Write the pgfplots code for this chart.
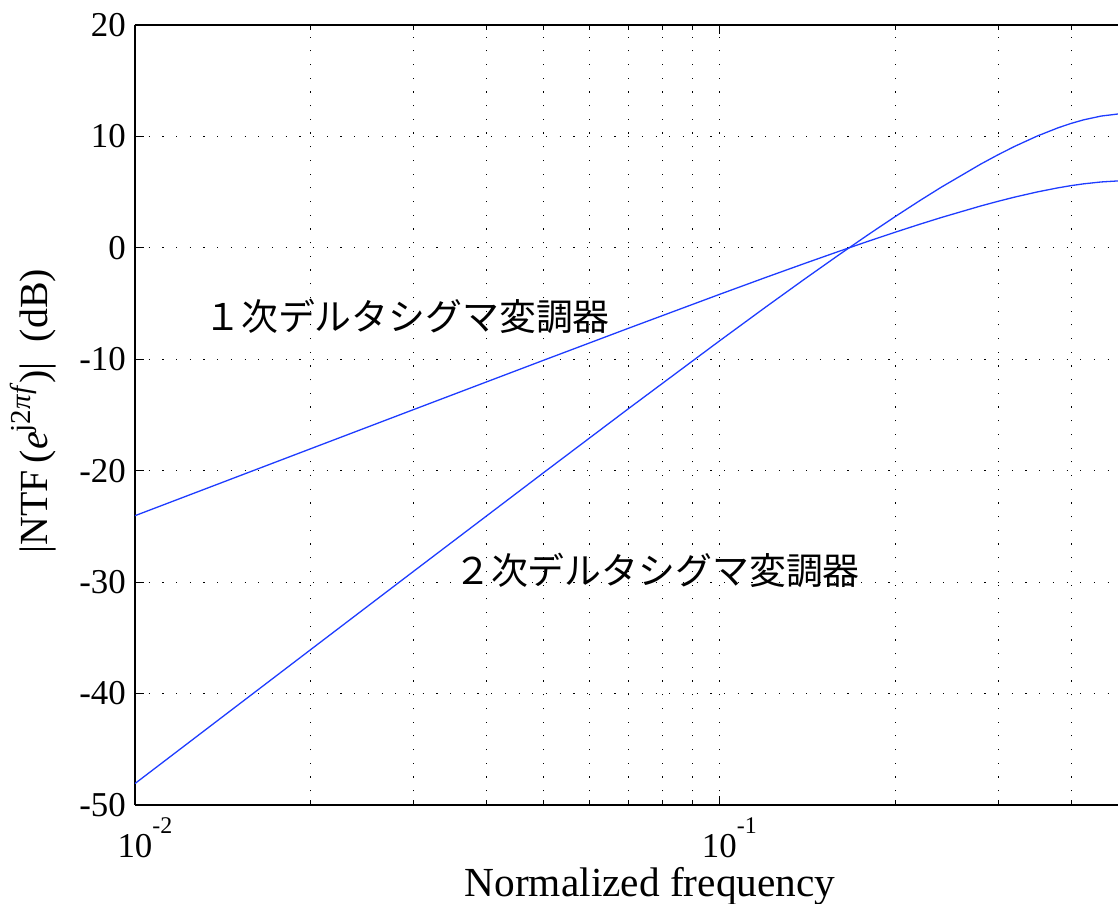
\documentclass[border=0pt]{standalone}
\usepackage{fontspec}
\setmainfont{Liberation Serif}
\newfontfamily\jpfont{Noto Sans CJK JP}
\usepackage{pgfplots}
\pgfplotsset{compat=1.18}
\usetikzlibrary{calc}
\definecolor{curve}{RGB}{30,60,255}

\pgfplotstableread{
f first second
0.01 -24.038 -48.075
0.015 -20.518 -41.036
0.02 -18.022 -36.043
0.03 -14.507 -29.014
0.05 -10.093 -20.186
0.07 -7.205 -14.409
0.1 -4.180 -8.360
0.12 -2.659 -5.319
0.14 -1.396 -2.792
0.16 -0.323 -0.646
0.18 0.601 1.202
0.2 1.405 2.810
0.22 2.109 4.218
0.24 2.729 5.457
0.28 3.756 7.513
0.3 4.180 8.360
0.32 4.551 9.102
0.35 5.018 10.036
0.38 5.388 10.776
0.4 5.585 11.169
0.42 5.743 11.487
0.45 5.913 11.826
0.48 6.003 12.007
0.5 6.021 12.041
}\ntfdata

\begin{document}
\begin{tikzpicture}
\begin{axis}[
  name=ax,
  scale only axis, width=983bp, height=780bp,
  xmode=log, xmin=0.01, xmax=0.481, ymin=-50, ymax=20,
  axis x line*=box, axis y line*=left,
  axis line style={black, line width=1.5bp},
  tick align=inside,
  major tick length=9bp, minor tick length=5bp,
  tick style={black, line width=1.2bp},
  xtick={0.01,0.1},
  minor xtick={0.02,0.03,0.04,0.05,0.06,0.07,0.08,0.09,0.2,0.3,0.4},
  xticklabels={10\rlap{\raisebox{24bp}{\fontsize{24}{24}\selectfont -2}},10\rlap{\raisebox{24bp}{\fontsize{24}{24}\selectfont -1}}},
  ytick={-50,-40,-30,-20,-10,0,10,20},
  yticklabels={-50,-40,-30,-20,-10,0,10,20},
  xmajorgrids, ymajorgrids, xminorgrids,
  major grid style={black, line width=1.2bp, dash pattern=on 1.2bp off 12.5bp},
  minor grid style={black, line width=1.2bp, dash pattern=on 1.2bp off 12.5bp},
  tick label style={font=\fontsize{35}{35}\selectfont},
  yticklabel style={inner sep=0pt},
  yticklabel shift=9bp,
  xticklabel style={anchor=base, inner sep=0pt, yshift=-53bp},
  xlabel={Normalized frequency},
  xlabel style={font=\fontsize{41.5}{41.5}\selectfont, at={(axis description cs:0.524,-0.1167)}, anchor=base, inner sep=0pt},
  ylabel={|NTF\,(\textit{e}\raisebox{0.42em}{\fontsize{29}{29}\selectfont j2\textit{π}\textit{f}})|\ \ (dB)},
  ylabel style={font=\fontsize{40}{40}\selectfont, at={(axis description cs:-0.1038,0.505)}, anchor=center, inner sep=0pt},
]
\addplot[curve, line width=1.3bp] table[x=f, y=first] {\ntfdata};
\addplot[curve, line width=1.3bp] table[x=f, y=second] {\ntfdata};
\node[anchor=west, inner sep=0pt, font=\jpfont\fontsize{37}{37}\selectfont] at (axis cs:0.01313,-6.16) {１次デルタシグマ変調器};
\node[anchor=west, inner sep=0pt, font=\jpfont\fontsize{37}{37}\selectfont] at (axis cs:0.03516,-28.91) {２次デルタシグマ変調器};
\end{axis}
\pgfresetboundingbox
\path[use as bounding box] ($(ax.south west)+(-135bp,-99bp)$) rectangle ($(ax.north east)+(0bp,25bp)$);
\end{tikzpicture}
\end{document}
